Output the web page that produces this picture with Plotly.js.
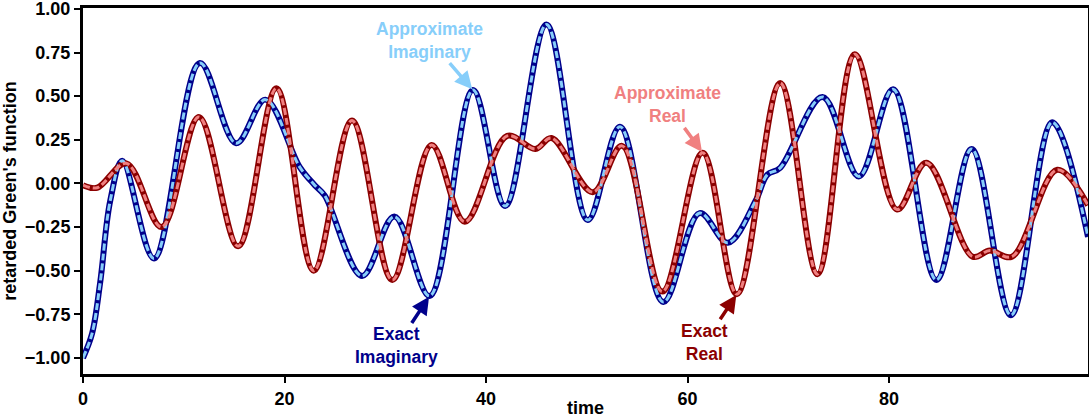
<!DOCTYPE html>
<html>
<head>
<meta charset="utf-8">
<script src="https://cdn.plot.ly/plotly-3.0.1.min.js"></script>
<style>html,body{margin:0;padding:0;background:#fff;}#chart{width:1089px;height:418px;}</style>
</head>
<body>
<div id="chart"></div>
<script>
// Imaginary part (time, value)
const timeImag = [0, 0.9, 1.7, 2.7, 3.9, 7.05, 11.6, 15.2, 18.1, 21.5, 23.0, 24.0, 27.7, 30.9, 34.4, 38.7, 41.9, 46.0, 50.1, 53.3, 57.6, 61.2, 64.0, 66.8, 67.9, 69.2, 73.4, 77.0, 80.4, 84.7, 88.2, 92.1, 96.2, 99.75];
const exactImag = [-1.0, -0.86, -0.57, -0.10, 0.13, -0.43, 0.69, 0.23, 0.48, 0.095, -0.01, -0.07, -0.53, -0.19, -0.645, 0.535, -0.13, 0.91, -0.21, 0.325, -0.68, -0.17, -0.34, -0.095, 0.049, 0.089, 0.495, 0.04, 0.54, -0.553, 0.197, -0.755, 0.35, -0.307];
const approxImag = exactImag.slice();

// Real part
const timeReal = [0, 1.4, 4.3, 7.8, 11.5, 15.4, 19.2, 22.9, 26.7, 30.7, 34.6, 37.9, 42.1, 44.9, 46.5, 50.6, 53.5, 57.5, 61.5, 64.9, 69.2, 72.9, 76.6, 80.8, 83.7, 88.3, 90.0, 92.2, 96.7, 99.75];
const exactReal = [-0.01, -0.025, 0.115, -0.25, 0.38, -0.36, 0.545, -0.50, 0.36, -0.553, 0.22, -0.22, 0.272, 0.197, 0.26, -0.05, 0.215, -0.62, 0.175, -0.635, 0.575, -0.52, 0.74, -0.15, 0.118, -0.42, -0.385, -0.42, 0.078, -0.125];
const approxReal = exactReal.slice();

const yTicks = [-1.0, -0.75, -0.5, -0.25, 0, 0.25, 0.5, 0.75, 1.0];
const yTickText = ['\u22121.00', '\u22120.75', '\u22120.50', '\u22120.25', '0.00', '0.25', '0.50', '0.75', '1.00'];
const xTicks = [0, 20, 40, 60, 80];

const C = {exactImag: '#00008B', approxImag: '#87CEFA', exactReal: '#8B0000', approxReal: '#F08080'};
const FONT = 'Liberation Sans, Arial, Helvetica, sans-serif';

const traces = [
  {x: timeImag, y: exactImag, mode: 'lines', line: {color: C.exactImag, width: 6, shape: 'spline', smoothing: 1}, name: 'Exact Imaginary'},
  {x: timeReal, y: exactReal, mode: 'lines', line: {color: C.exactReal, width: 6, shape: 'spline', smoothing: 1}, name: 'Exact Real'},
  {x: timeImag, y: approxImag, mode: 'lines', line: {color: C.approxImag, width: 3, dash: '7px,3px', shape: 'spline', smoothing: 1}, name: 'Approximate Imaginary'},
  {x: timeReal, y: approxReal, mode: 'lines', line: {color: C.approxReal, width: 3, dash: '7px,3px', shape: 'spline', smoothing: 1}, name: 'Approximate Real'}
];

function ann(text, x, y, ax, ay, color) {
  return {text: '<b>' + text + '</b>', x: x, y: y, xref: 'x', yref: 'y', ax: ax, ay: ay,
    showarrow: true, arrowhead: 2, arrowsize: 1, arrowwidth: 3.5, arrowcolor: color, standoff: 1,
    font: {family: FONT, size: 17.5, color: color}, align: 'center'};
}

const layout = {
  width: 1089, height: 418,
  margin: {l: 83, r: 1, t: 8, b: 44, pad: 0},
  paper_bgcolor: '#fff', plot_bgcolor: '#fff',
  showlegend: false,
  font: {family: FONT, size: 18, color: '#000'},
  xaxis: {
    range: [0, 99.75], tickvals: xTicks, ticks: 'outside', ticklen: 6, tickwidth: 2, tickcolor: '#000',
    showline: true, linewidth: 3, linecolor: '#000', mirror: true, showgrid: false, zeroline: false,
    ticklabeloverflow: 'allow',
    tickfont: {family: FONT, size: 18, color: '#000', weight: 'bold'},
    title: {text: '<b>time</b>', font: {family: FONT, size: 18, color: '#000'}, standoff: 4}
  },
  yaxis: {
    range: [-1.092, 1.005], tickvals: yTicks, ticktext: yTickText, ticks: 'outside', ticklen: 6, tickwidth: 2, tickcolor: '#000',
    showline: true, linewidth: 3, linecolor: '#000', mirror: true, showgrid: false, zeroline: false,
    ticklabeloverflow: 'allow',
    tickfont: {family: FONT, size: 18, color: '#000', weight: 'bold'},
    title: {text: "<b>retarded Green's function</b>", font: {family: FONT, size: 18, color: '#000'}, standoff: 5}
  },
  annotations: [
    ann('Approximate<br>Imaginary', 38.7, 0.535, -43, -50, C.approxImag),
    ann('Approximate<br>Real', 61.5, 0.175, -35, -48, C.approxReal),
    ann('Exact<br>Imaginary', 34.4, -0.645, -33, 50, C.exactImag),
    ann('Exact<br>Real', 64.9, -0.635, -32, 48, C.exactReal)
  ]
};

Plotly.newPlot('chart', traces, layout, {staticPlot: true, displayModeBar: false});
</script>
</body>
</html>
